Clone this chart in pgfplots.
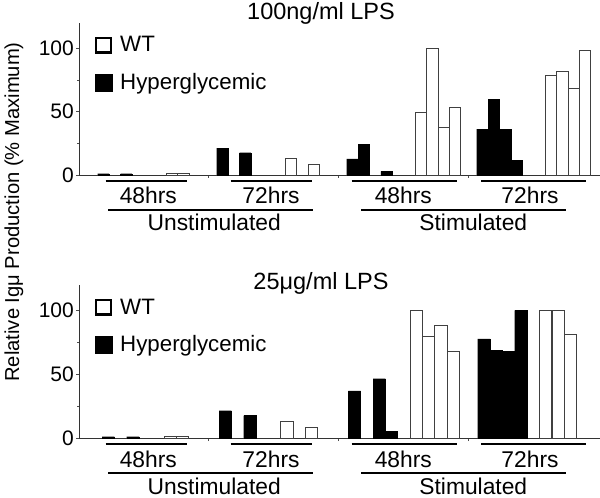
\documentclass[border=0pt]{standalone}
\usepackage{fontspec}
\setmainfont{Liberation Sans}
\usepackage{pgfplots}
\pgfplotsset{compat=1.18}
\newcommand{\bigf}{\fontsize{21}{25}\selectfont}
\newcommand{\titf}{\fontsize{23.5}{27}\selectfont}
\newcommand{\legf}{\fontsize{22.3}{26}\selectfont}
\newcommand{\catf}{\fontsize{22.8}{26}\selectfont}
\pgfplotsset{
  panel/.style={
    scale only axis, width=521pt,
    xmin=0, xmax=521, ymin=0, ymax=120,
    axis x line*=bottom, axis y line*=left,
    xtick={129.5,259.5,389.5}, xticklabels={},
    ytick={0,50,100}, minor ytick={25,75},
    tick align=outside, major tick length=3pt, minor tick length=2pt,
    tick style={black!70, line width=0.6pt},
    axis line style={black!80, line width=0.8pt},
    clip=false,
    /pgf/number format/assume math mode=true,
    tick label style={font=\bigf},
    yticklabel style={inner sep=2pt},
    legend style={draw=none, fill=none, at={(rel axis cs:0.03,0.925)}, anchor=north west,
      font=\legf, row sep=16pt, inner sep=0pt},
    legend cell align=left,
  },
  hy/.style={ybar, bar width=11.4, bar shift=0pt, fill=black, draw=black, line width=0.4pt},
  wt/.style={ybar, bar width=11.4, bar shift=0pt, fill=white, draw=black!75, line width=0.6pt},
  hyb/.style={ybar, bar width=12.35, bar shift=0pt, fill=black, draw=black, line width=0.4pt},
  wtb/.style={ybar, bar width=12.35, bar shift=0pt, fill=white, draw=black!75, line width=0.6pt},
}
\newcommand{\wtimg}{\addlegendimage{legend image code/.code={\draw[fill=white,draw=black,line width=2.4pt] (1.2pt,-7.3pt) rectangle (15.8pt,7.3pt);}}}
\newcommand{\hyimg}{\addlegendimage{legend image code/.code={\fill[black] (0pt,-8.5pt) rectangle (17pt,8.5pt);}}}
\newcommand{\cats}{%
  \draw[line width=2.5pt] ([yshift=-6pt]axis cs:26.7,0) -- ([yshift=-6pt]axis cs:107.7,0);
  \draw[line width=2.5pt] ([yshift=-6pt]axis cs:151.7,0) -- ([yshift=-6pt]axis cs:232.7,0);
  \draw[line width=2.5pt] ([yshift=-6pt]axis cs:272.7,0) -- ([yshift=-6pt]axis cs:377.7,0);
  \draw[line width=2.5pt] ([yshift=-6pt]axis cs:402,0) -- ([yshift=-6pt]axis cs:507,0);
  \node[font=\catf, anchor=base, inner sep=0pt] at ([yshift=-29pt]axis cs:69.3,0) {48hrs};
  \node[font=\catf, anchor=base, inner sep=0pt] at ([yshift=-29pt]axis cs:192,0) {72hrs};
  \node[font=\catf, anchor=base, inner sep=0pt] at ([yshift=-29pt]axis cs:324.3,0) {48hrs};
  \node[font=\catf, anchor=base, inner sep=0pt] at ([yshift=-29pt]axis cs:451,0) {72hrs};
  \draw[line width=2.5pt] ([yshift=-35pt]axis cs:29,0) -- ([yshift=-35pt]axis cs:233.7,0);
  \draw[line width=2.5pt] ([yshift=-35pt]axis cs:282,0) -- ([yshift=-35pt]axis cs:486.7,0);
  \node[font=\catf, anchor=base, inner sep=0pt] at ([yshift=-56pt]axis cs:135.2,0) {Unstimulated};
  \node[font=\catf, anchor=base, inner sep=0pt] at ([yshift=-56pt]axis cs:394.3,0) {Stimulated};
}
\begin{document}
\begin{tikzpicture}
\useasboundingbox (0,0) rectangle (600pt,498pt);
\node[font=\titf] at (321pt,485pt) {100ng/ml LPS};
\node[font=\titf] at (321pt,215pt) {25μg/ml LPS};
\node[font=\fontsize{20.2}{24}\selectfont, rotate=90] at (14pt,286pt) {Relative Igμ Production (\% Maximum)};
% top panel
\begin{axis}[panel, at={(79pt,323pt)}, anchor=south west, height=152pt]
\wtimg \addlegendentry{\hspace{6pt}WT}
\hyimg \addlegendentry{\hspace{6pt}Hyperglycemic}
\addplot[hy, forget plot] coordinates {(24.4,1)(47.2,1)(143.4,21.3)(166.2,17.6)(273.4,12.7)(284.8,24.1)(307.6,2.8)(403.4,36.2)(414.8,59.6)(426.2,35.8)(437.6,11.8)};
\addplot[wt, forget plot] coordinates {(92.8,1.5)(104.2,1.5)(211.8,13.1)(234.6,8.5)(341.8,49.6)(353.2,100)(364.6,37.3)(376.0,53.3)(471.8,78.5)(483.2,82)(494.6,68.4)(506.0,98.6)};
\cats
\end{axis}
% bottom panel
\begin{axis}[panel, at={(79pt,60pt)}, anchor=south west, height=153pt]
\wtimg \addlegendentry{\hspace{6pt}WT}
\hyimg \addlegendentry{\hspace{6pt}Hyperglycemic}
\addplot[hyb, forget plot] coordinates {(29.2,1)(53.9,1)(146.2,21.4)(170.9,17.5)(275.5,36.9)(300.2,46.5)(312.5,5.2)(404.9,77.7)(417.2,68.8)(429.6,67.8)(441.9,100)};
\addplot[wtb, forget plot] coordinates {(91.0,1.5)(103.3,1.5)(207.9,13.1)(232.6,8.2)(337.2,100)(349.6,80)(361.9,88)(374.3,68.2)(466.6,100)(479.0,100)(491.3,81.6)};
\cats
\end{axis}
\end{tikzpicture}
\end{document}
